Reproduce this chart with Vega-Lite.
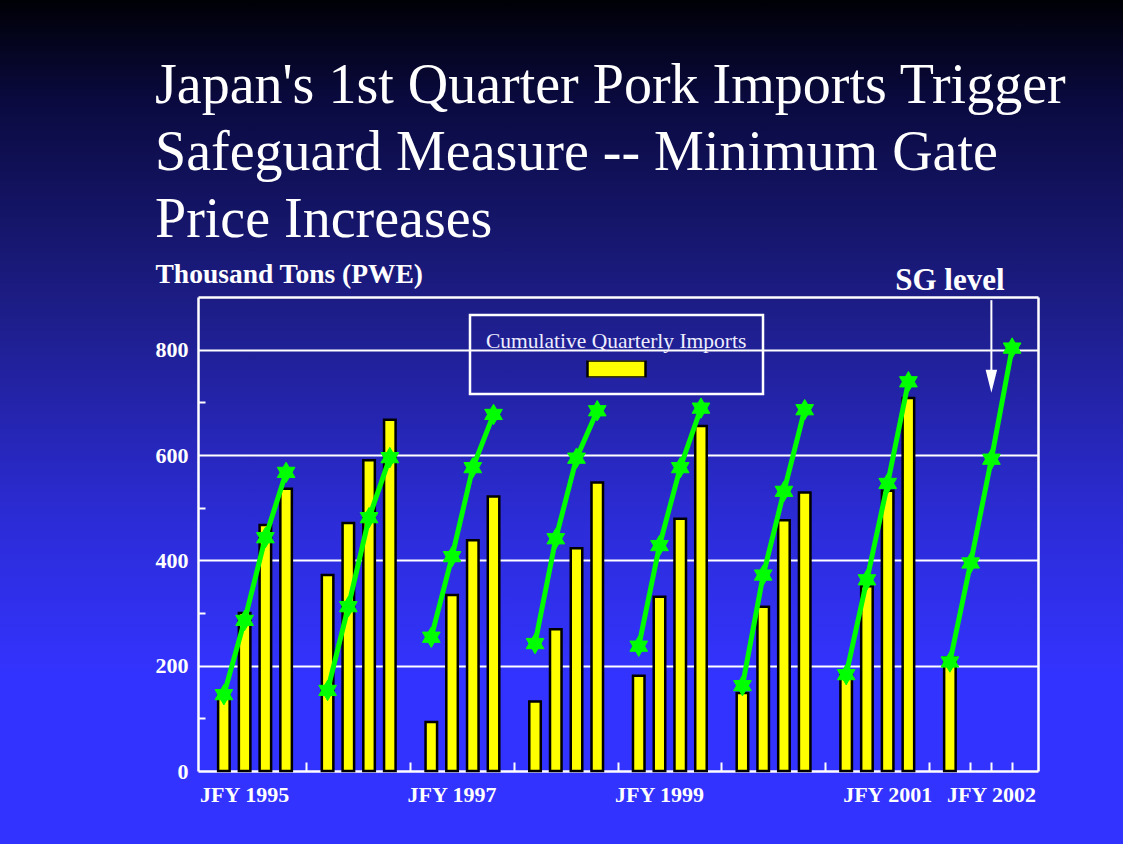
{
  "$schema": "https://vega.github.io/schema/vega-lite/v6.json",
  "width": 1123,
  "height": 844,
  "autosize": {"type": "none"},
  "padding": 0,
  "background": "#3333ff",
  "config": {
    "view": {
      "stroke": null,
      "fill": {
        "gradient": "linear",
        "x1": 0, "y1": 0, "x2": 0, "y2": 1,
        "stops": [
          {"offset": 0, "color": "#000006"},
          {"offset": 0.12, "color": "#0a0a40"},
          {"offset": 0.38, "color": "#1e1e8c"},
          {"offset": 0.62, "color": "#2c2cd8"},
          {"offset": 0.8, "color": "#3333ff"},
          {"offset": 1, "color": "#3333ff"}
        ]
      }
    },
    "font": "Liberation Serif"
  },
  "title": {
    "text": ["Japan's 1st Quarter Pork Imports Trigger", "Safeguard Measure -- Minimum Gate", "Price Increases"],
    "anchor": "start",
    "frame": "group",
    "orient": "top",
    "font": "Liberation Serif",
    "fontSize": 56,
    "fontWeight": "normal",
    "color": "white",
    "lineHeight": 67,
    "offset": 0,
    "baseline": "alphabetic",
    "dx": 155,
    "dy": 293
  },
  "datasets": {
    "imports": [
      {"year": "1995", "period": "1995 Q1", "imports": 143, "sg": 145},
      {"year": "1995", "period": "1995 Q2", "imports": 300, "sg": 286},
      {"year": "1995", "period": "1995 Q3", "imports": 467, "sg": 443},
      {"year": "1995", "period": "1995 Q4", "imports": 536, "sg": 567},
      {"year": "1996", "period": "1996 Q1", "imports": 372, "sg": 153},
      {"year": "1996", "period": "1996 Q2", "imports": 471, "sg": 312},
      {"year": "1996", "period": "1996 Q3", "imports": 590, "sg": 481},
      {"year": "1996", "period": "1996 Q4", "imports": 667, "sg": 595},
      {"year": "1997", "period": "1997 Q1", "imports": 93, "sg": 254},
      {"year": "1997", "period": "1997 Q2", "imports": 334, "sg": 407},
      {"year": "1997", "period": "1997 Q3", "imports": 438, "sg": 576},
      {"year": "1997", "period": "1997 Q4", "imports": 521, "sg": 677},
      {"year": "1998", "period": "1998 Q1", "imports": 132, "sg": 242},
      {"year": "1998", "period": "1998 Q2", "imports": 269, "sg": 441},
      {"year": "1998", "period": "1998 Q3", "imports": 423, "sg": 594},
      {"year": "1998", "period": "1998 Q4", "imports": 548, "sg": 684},
      {"year": "1999", "period": "1999 Q1", "imports": 181, "sg": 237},
      {"year": "1999", "period": "1999 Q2", "imports": 331, "sg": 428},
      {"year": "1999", "period": "1999 Q3", "imports": 479, "sg": 576},
      {"year": "1999", "period": "1999 Q4", "imports": 655, "sg": 689},
      {"year": "2000", "period": "2000 Q1", "imports": 148, "sg": 162},
      {"year": "2000", "period": "2000 Q2", "imports": 312, "sg": 372},
      {"year": "2000", "period": "2000 Q3", "imports": 476, "sg": 531},
      {"year": "2000", "period": "2000 Q4", "imports": 529, "sg": 686},
      {"year": "2001", "period": "2001 Q1", "imports": 186, "sg": 183},
      {"year": "2001", "period": "2001 Q2", "imports": 351, "sg": 363},
      {"year": "2001", "period": "2001 Q3", "imports": 532, "sg": 546},
      {"year": "2001", "period": "2001 Q4", "imports": 708, "sg": 739},
      {"year": "2002", "period": "2002 Q1", "imports": 216, "sg": 207},
      {"year": "2002", "period": "2002 Q2", "imports": null, "sg": 395},
      {"year": "2002", "period": "2002 Q3", "imports": null, "sg": 592},
      {"year": "2002", "period": "2002 Q4", "imports": null, "sg": 803}
    ],
    "notes": [
      {"label": "SG level", "labelPeriod": "2002 Q1", "labelAt": 913, "arrowPeriod": "2002 Q3", "arrowFrom": 894, "arrowTo": 740}
    ]
  },
  "layer": [
    {
      "data": {"name": "imports"},
      "mark": {"type": "bar", "stroke": "black", "strokeWidth": 2.5},
      "encoding": {
        "x": {
          "field": "period", "type": "ordinal",
          "scale": {
            "domain": ["1995 Q1","1995 Q2","1995 Q3","1995 Q4","gap 1995","1996 Q1","1996 Q2","1996 Q3","1996 Q4","gap 1996","1997 Q1","1997 Q2","1997 Q3","1997 Q4","gap 1997","1998 Q1","1998 Q2","1998 Q3","1998 Q4","gap 1998","1999 Q1","1999 Q2","1999 Q3","1999 Q4","gap 1999","2000 Q1","2000 Q2","2000 Q3","2000 Q4","gap 2000","2001 Q1","2001 Q2","2001 Q3","2001 Q4","gap 2001","2002 Q1","2002 Q2","2002 Q3","2002 Q4"],
            "range": [198, 1038], "paddingInner": 0.445, "paddingOuter": 0.97
          },
          "axis": {
            "orient": "bottom", "offset": -73, "title": null,
            "domainColor": "white", "domainWidth": 2.5,
            "tickColor": "white", "tickWidth": 2, "tickSize": -9,
            "labelPadding": 22, "labelAngle": 0, "labelOverlap": false,
            "labelFont": "Liberation Serif", "labelFontSize": 22, "labelFontWeight": "bold", "labelColor": "white",
            "labelBaseline": "top",
            "labelExpr": "datum.value == '1995 Q2' ? 'JFY 1995' : datum.value == '1997 Q2' ? 'JFY 1997' : datum.value == '1999 Q2' ? 'JFY 1999' : datum.value == '2001 Q3' ? 'JFY 2001' : datum.value == '2002 Q3' ? 'JFY 2002' : ''"
          }
        },
        "y": {
          "field": "imports", "type": "quantitative",
          "scale": {"domain": [0, 900], "range": [771, 297], "nice": false},
          "axis": {
            "orient": "left", "offset": -198,
            "values": [0, 100, 200, 300, 400, 500, 600, 700, 800],
            "domainColor": "white", "domainWidth": 2.5,
            "tickColor": "white", "tickWidth": 2, "tickSize": -7,
            "tickOpacity": {"condition": {"test": "datum.value % 200 == 0", "value": 0}, "value": 1},
            "grid": true, "gridColor": "white", "gridWidth": 2,
            "gridOpacity": {"condition": {"test": "datum.value % 200 == 0 && datum.value > 0", "value": 1}, "value": 0},
            "labelExpr": "datum.value % 200 == 0 ? datum.label : ''",
            "labelPadding": 17,
            "labelFont": "Liberation Serif", "labelFontSize": 22, "labelFontWeight": "bold", "labelColor": "white",
            "title": "Thousand Tons (PWE)",
            "titleFont": "Liberation Serif", "titleFontSize": 27.5, "titleFontWeight": "bold", "titleColor": "white",
            "titleAngle": 0, "titleAlign": "left", "titleBaseline": "alphabetic",
            "titleX": -43, "titleY": 282
          }
        },
        "color": {
          "datum": "Cumulative Quarterly Imports", "type": "nominal",
          "scale": {"range": ["#ffff00"]},
          "legend": {
            "orient": "none", "legendX": 470, "legendY": 315,
            "title": "Cumulative Quarterly Imports",
            "titleFont": "Liberation Serif", "titleFontSize": 21.5, "titleFontWeight": "normal", "titleColor": "#eeeeff",
            "titleLimit": 600,
            "titlePadding": 8,
            "labelExpr": "''",
            "symbolType": "M-1,-0.293H1V0.293H-1Z",
            "symbolSize": 3364,
            "symbolStrokeColor": "black", "symbolStrokeWidth": 2.5,
            "symbolOffset": 100,
            "clipHeight": 17,
            "padding": 16,
            "strokeColor": "white",
            "encode": {"legend": {"update": {"strokeWidth": {"value": 2.5}}}}
          }
        }
      }
    },
    {
      "data": {"name": "imports"},
      "mark": {"type": "line", "color": "#00ff00", "strokeWidth": 5},
      "encoding": {
        "x": {
          "field": "period", "type": "ordinal",
          "scale": {
            "domain": ["1995 Q1","1995 Q2","1995 Q3","1995 Q4","gap 1995","1996 Q1","1996 Q2","1996 Q3","1996 Q4","gap 1996","1997 Q1","1997 Q2","1997 Q3","1997 Q4","gap 1997","1998 Q1","1998 Q2","1998 Q3","1998 Q4","gap 1998","1999 Q1","1999 Q2","1999 Q3","1999 Q4","gap 1999","2000 Q1","2000 Q2","2000 Q3","2000 Q4","gap 2000","2001 Q1","2001 Q2","2001 Q3","2001 Q4","gap 2001","2002 Q1","2002 Q2","2002 Q3","2002 Q4"],
            "range": [198, 1038], "paddingInner": 0.445, "paddingOuter": 0.97
          },
          "axis": {"orient": "top", "offset": -297, "title": null, "labels": false, "ticks": false, "grid": false, "domainColor": "white", "domainWidth": 2.5}
        },
        "y": {
          "field": "sg", "type": "quantitative",
          "scale": {"domain": [0, 900], "range": [771, 297], "nice": false},
          "axis": {"orient": "right", "offset": -85, "title": null, "labels": false, "ticks": false, "grid": false, "domainColor": "white", "domainWidth": 2.5}
        },
        "detail": {"field": "year"}
      }
    },
    {
      "data": {"name": "imports"},
      "mark": {"type": "point", "shape": "M0,-1L0.866,0.5L-0.866,0.5ZM0,1L-0.866,-0.5L0.866,-0.5Z", "filled": true, "fill": "#00ff00", "stroke": "#00ff00", "strokeWidth": 1, "size": 420, "opacity": 1},
      "encoding": {
        "x": {"field": "period", "type": "ordinal", "axis": null},
        "y": {"field": "sg", "type": "quantitative", "axis": null}
      }
    },
    {
      "data": {"name": "notes"},
      "mark": {"type": "rule", "color": "white", "strokeWidth": 2},
      "encoding": {
        "x": {"field": "arrowPeriod", "type": "ordinal", "axis": null},
        "y": {"field": "arrowFrom", "type": "quantitative", "axis": null},
        "y2": {"field": "arrowTo"}
      }
    },
    {
      "data": {"name": "notes"},
      "mark": {"type": "point", "shape": "M-0.5,-1L0.5,-1L0,1Z", "filled": true, "color": "white", "size": 529, "opacity": 1},
      "encoding": {
        "x": {"field": "arrowPeriod", "type": "ordinal", "axis": null},
        "y": {"field": "arrowTo", "type": "quantitative", "axis": null}
      }
    },
    {
      "data": {"name": "notes"},
      "mark": {"type": "text", "font": "Liberation Serif", "fontSize": 31, "fontWeight": "bold", "color": "white", "align": "center", "baseline": "alphabetic"},
      "encoding": {
        "x": {"field": "labelPeriod", "type": "ordinal", "axis": null},
        "y": {"field": "labelAt", "type": "quantitative", "axis": null},
        "text": {"field": "label"}
      }
    }
  ],
  "resolve": {"axis": {"x": "independent", "y": "independent"}}
}
